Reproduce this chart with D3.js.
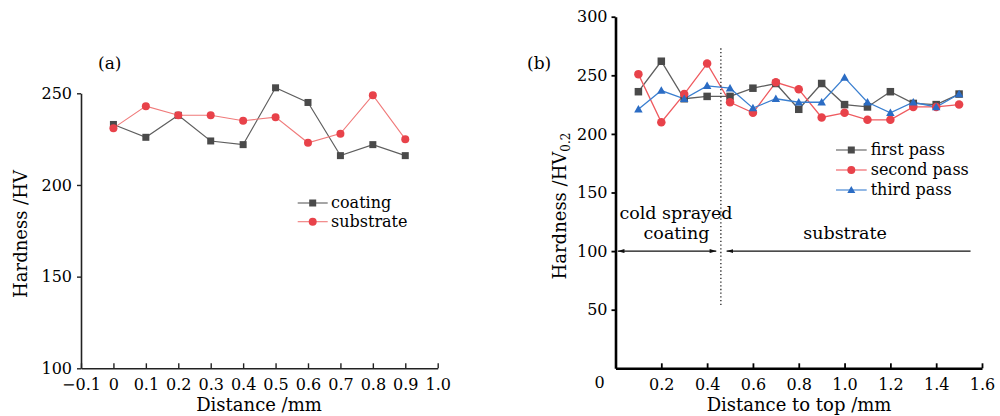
<!DOCTYPE html>
<html>
<head>
<meta charset="utf-8">
<script src="https://cdn.jsdelivr.net/npm/d3@7"></script>
<style>
  html, body { margin: 0; padding: 0; background: #fff; }
  svg { display: block; font-family: "DejaVu Serif", "Liberation Serif", serif; }
</style>
</head>
<body>
<svg id="chart" width="1000" height="416"></svg>
<script>
// ---------- data: panel (a) ----------
const distA = [0, 0.1, 0.2, 0.3, 0.4, 0.5, 0.6, 0.7, 0.8, 0.9];
const coating = [233, 226, 238, 224, 222, 253, 245, 216, 222, 216];
const substrate = [231, 243, 238, 238, 235, 237, 223, 228, 249, 225];
const xTicksA = [-0.1, 0, 0.1, 0.2, 0.3, 0.4, 0.5, 0.6, 0.7, 0.8, 0.9, 1.0];
const yTicksA = [100, 150, 200, 250];

// ---------- data: panel (b) ----------
const distB = [0.1, 0.2, 0.3, 0.4, 0.5, 0.6, 0.7, 0.8, 0.9, 1.0, 1.1, 1.2, 1.3, 1.4, 1.5];
const firstPass = [236, 262, 230, 232, 232, 239, 243, 221, 243, 225, 223, 236, 226, 225, 234];
const secondPass = [251, 210, 234, 260, 227, 218, 244, 238, 214, 218, 212, 212, 223, 223, 225];
const thirdPass = [221, 237, 230, 241, 239, 222, 230, 227, 227, 248, 227, 218, 227, 223, 234];
const xTicksB = [0.2, 0.4, 0.6, 0.8, 1.0, 1.2, 1.4, 1.6];
const yTicksB = [50, 100, 150, 200, 250, 300];
const boundaryX = 0.46;

const svg = d3.select("#chart");
const fmt = v => v === 0 ? "0" : (v < 0 ? "\u2212" + Math.abs(v).toFixed(1) : v.toFixed(1));

// ================= Panel (a) =================
const xA = d3.scaleLinear().domain([-0.1, 1.0]).range([81, 437.7]);
const yA = d3.scaleLinear().domain([100, 250]).range([368.3, 93.3]);

const gA = svg.append("g");
const axA_x = gA.append("g").attr("transform", `translate(0,${yA(100)})`)
  .call(d3.axisBottom(xA).tickValues(xTicksA).tickFormat(fmt).tickSizeInner(-5).tickSizeOuter(0).tickPadding(10.5));
const axA_y = gA.append("g").attr("transform", `translate(${xA(-0.1)},0)`)
  .call(d3.axisLeft(yA).tickValues(yTicksA).tickFormat(d3.format("d")).tickSizeInner(4).tickSizeOuter(0).tickPadding(5));
[axA_x, axA_y].forEach(a => {
  a.select(".domain").attr("stroke", "#222").attr("stroke-width", 1.6);
  a.selectAll(".tick line").attr("stroke", "#222").attr("stroke-width", 1.4);
  a.selectAll(".tick text").attr("fill", "#000").style("font-size", "16px").style("font-family", "DejaVu Serif");
});

const lineA = d3.line().x(d => xA(d[0])).y(d => yA(d[1]));
const serA = [
  { name: "coating", vals: coating, line: "#5e5e5e", mark: "#4a4a4a", shape: "square" },
  { name: "substrate", vals: substrate, line: "#f07a7a", mark: "#e8424a", shape: "circle" }
];

function drawMarker(g, shape, x, y, color, s) {
  if (shape === "square") {
    g.append("rect").attr("x", x - s / 2).attr("y", y - s / 2).attr("width", s).attr("height", s).attr("fill", color);
  } else if (shape === "circle") {
    g.append("circle").attr("cx", x).attr("cy", y).attr("r", s / 2 + 0.5).attr("fill", color);
  } else {
    const h = s * 0.95;
    g.append("path").attr("d", `M${x},${y - h * 0.6}L${x + s / 2 + 0.5},${y + h * 0.45}L${x - s / 2 - 0.5},${y + h * 0.45}Z`).attr("fill", color);
  }
}

serA.forEach(s => {
  const pts = distA.map((d, i) => [d, s.vals[i]]);
  gA.append("path").attr("d", lineA(pts)).attr("fill", "none").attr("stroke", s.line).attr("stroke-width", 1.1);
});
serA.forEach(s => {
  distA.forEach((d, i) => drawMarker(gA, s.shape, xA(d), yA(s.vals[i]), s.mark, 7));
});

// legend (a)
serA.forEach((s, i) => {
  const cy = 203 + i * 18.7;
  gA.append("line").attr("x1", 297.7).attr("x2", 327.7).attr("y1", cy).attr("y2", cy).attr("stroke", s.line).attr("stroke-width", 1.1);
  drawMarker(gA, s.shape, 312.7, cy, s.mark, 7);
  gA.append("text").attr("x", 331).attr("y", cy).attr("dy", "0.32em").style("font-size", "16px").attr("fill", "#000").text(s.name);
});

gA.append("text").attr("x", 98).attr("y", 63).attr("dy", "0.35em").style("font-size", "17px").attr("fill", "#000").text("(a)");
gA.append("text").attr("x", 259).attr("y", 411).attr("text-anchor", "middle").style("font-size", "18px").attr("fill", "#000").text("Distance /mm");
gA.append("text").attr("transform", "translate(27,234) rotate(-90)").attr("text-anchor", "middle").style("font-size", "18px").attr("fill", "#000").text("Hardness /HV");

// ================= Panel (b) =================
const xB = d3.scaleLinear().domain([0, 1.6]).range([615.5, 982]);
const yB = d3.scaleLinear().domain([0, 300]).range([368.3, 16.7]);

const gB = svg.append("g");
const axB_x = gB.append("g").attr("transform", `translate(0,${yB(0)})`)
  .call(d3.axisBottom(xB).tickValues(xTicksB).tickFormat(d3.format(".1f")).tickSizeInner(-5).tickSizeOuter(0).tickPadding(10.5));
const axB_y = gB.append("g").attr("transform", `translate(${xB(0)},0)`)
  .call(d3.axisLeft(yB).tickValues(yTicksB).tickFormat(d3.format("d")).tickSizeInner(4).tickSizeOuter(0).tickPadding(4));
[axB_x, axB_y].forEach(a => {
  a.select(".domain").attr("stroke", "#000").attr("stroke-width", 2.6);
  a.selectAll(".tick line").attr("stroke", "#000").attr("stroke-width", 1.8);
  a.selectAll(".tick text").attr("fill", "#000").style("font-size", "16px").style("font-family", "DejaVu Serif");
});
// shared origin label
gB.append("text").attr("x", xB(0) - 16).attr("y", yB(0) + 14).attr("dy", "0.35em").attr("text-anchor", "middle")
  .style("font-size", "16px").attr("fill", "#000").text("0");

const lineB = d3.line().x(d => xB(d[0])).y(d => yB(d[1]));
const serB = [
  { name: "first pass", vals: firstPass, line: "#5e5e5e", mark: "#4a4a4a", shape: "square" },
  { name: "second pass", vals: secondPass, line: "#ef5a5f", mark: "#e8424a", shape: "circle" },
  { name: "third pass", vals: thirdPass, line: "#3a7fd0", mark: "#2b6cc4", shape: "triangle" }
];
serB.forEach(s => {
  const pts = distB.map((d, i) => [d, s.vals[i]]);
  gB.append("path").attr("d", lineB(pts)).attr("fill", "none").attr("stroke", s.line).attr("stroke-width", 1.3);
});
serB.forEach(s => {
  distB.forEach((d, i) => drawMarker(gB, s.shape, xB(d), yB(s.vals[i]), s.mark, 7.5));
});

// legend (b)
serB.forEach((s, i) => {
  const cy = 150 + i * 20;
  gB.append("line").attr("x1", 836).attr("x2", 866.7).attr("y1", cy).attr("y2", cy).attr("stroke", s.line).attr("stroke-width", 1.1);
  drawMarker(gB, s.shape, 851.3, cy, s.mark, 7);
  gB.append("text").attr("x", 870.7).attr("y", cy).attr("dy", "0.32em").style("font-size", "16px").attr("fill", "#000").text(s.name);
});

// boundary dotted line
gB.append("line").attr("x1", xB(boundaryX)).attr("x2", xB(boundaryX)).attr("y1", yB(273)).attr("y2", yB(52))
  .attr("stroke", "#222").attr("stroke-width", 1.3).attr("stroke-dasharray", "1.3,2.4");

// arrows
const defs = svg.append("defs");
defs.append("marker").attr("id", "ah").attr("viewBox", "0 0 10 6").attr("refX", 10).attr("refY", 3)
  .attr("markerWidth", 7).attr("markerHeight", 4).attr("markerUnits", "userSpaceOnUse").attr("orient", "auto-start-reverse")
  .append("path").attr("d", "M0,0L10,3L0,6Z").attr("fill", "#111");
gB.append("line").attr("x1", xB(0.01)).attr("x2", xB(0.44)).attr("y1", yB(100)).attr("y2", yB(100))
  .attr("stroke", "#111").attr("stroke-width", 1.3).attr("marker-start", "url(#ah)").attr("marker-end", "url(#ah)");
gB.append("line").attr("x1", xB(0.485)).attr("x2", xB(1.55)).attr("y1", yB(100)).attr("y2", yB(100))
  .attr("stroke", "#111").attr("stroke-width", 1.3).attr("marker-start", "url(#ah)");

gB.append("text").attr("x", 676).attr("y", 219).attr("text-anchor", "middle").style("font-size", "17.5px").attr("fill", "#000").text("cold sprayed");
gB.append("text").attr("x", 676.5).attr("y", 239).attr("text-anchor", "middle").style("font-size", "17.5px").attr("fill", "#000").text("coating");
gB.append("text").attr("x", 845).attr("y", 239).attr("text-anchor", "middle").style("font-size", "17.5px").attr("fill", "#000").text("substrate");

gB.append("text").attr("x", 527).attr("y", 63).attr("dy", "0.35em").style("font-size", "17px").attr("fill", "#000").text("(b)");
gB.append("text").attr("x", 799).attr("y", 411).attr("text-anchor", "middle").style("font-size", "18px").attr("fill", "#000").text("Distance to top /mm");
const yt = gB.append("text").attr("transform", "translate(566,206) rotate(-90)").attr("text-anchor", "middle")
  .style("font-size", "18px").attr("fill", "#000");
yt.append("tspan").text("Hardness /HV");
yt.append("tspan").attr("dy", 4).style("font-size", "12px").text("0.2");
</script>
</body>
</html>
